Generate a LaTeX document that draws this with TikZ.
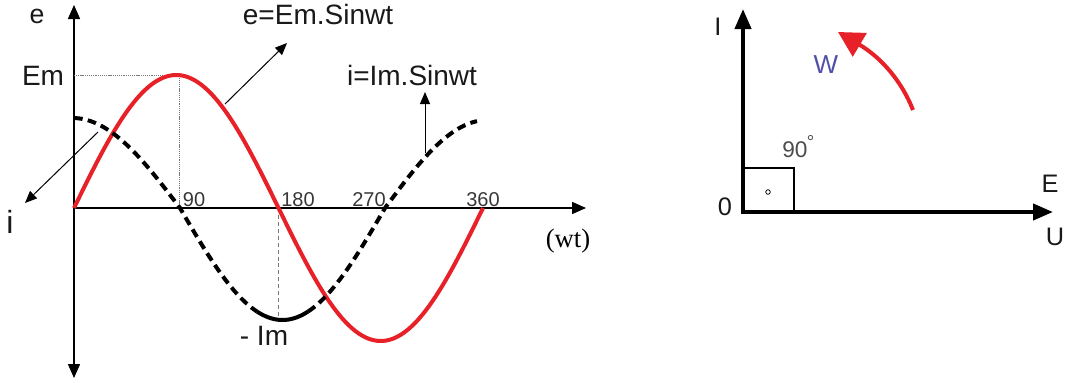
\documentclass[tikz,border=0pt]{standalone}
\usepackage{fontspec}
\setmainfont{Liberation Sans}
\newfontfamily\serifwt{Liberation Serif}
\usetikzlibrary{arrows.meta}
\definecolor{sinred}{RGB}{232,32,40}
\definecolor{wblue}{RGB}{80,80,170}
\definecolor{numgray}{RGB}{55,55,55}
\definecolor{guidegray}{RGB}{120,120,120}
\begin{document}
\begin{tikzpicture}[x=0.75pt,y=-0.75pt,
  axisthin/.style={line width=1.1pt,-{Triangle[length=10.5pt,width=9pt]}},
  axisthick/.style={line width=3pt,line join=miter},
  pointer/.style={line width=0.75pt,-{Triangle[length=9pt,width=7.5pt]}},
  guide/.style={guidegray,line width=0.6pt,dash pattern=on 0.8pt off 0.6pt},
  guidedash/.style={guidegray,line width=0.6pt,dash pattern=on 3pt off 2.2pt},
  esine/.style={sinred,line width=3pt},
  isine/.style={black,line width=3pt,dash pattern=on 6.5pt off 4pt},
  lbl/.style={inner sep=0pt,anchor=base,text=black!90,font=\fontsize{21}{25}\selectfont},
  numlbl/.style={inner sep=0pt,anchor=base,text=numgray,font=\fontsize{15}{18}\selectfont},
  rlbl/.style={inner sep=0pt,anchor=base,text=black!90,font=\fontsize{19}{22}\selectfont}
]
\useasboundingbox (0,0) rectangle (1066,382);

% ---------- left: waveforms ----------
\coordinate (O) at (74,208);
\coordinate (ytop) at (74,5);
\coordinate (ybot) at (74,378);
\coordinate (xend) at (586,208);
\draw[axisthin] (O) -- (ytop);
\draw[axisthin] (O) -- (ybot);
\draw[axisthin] (O) -- (xend);

% guide lines
\coordinate (emaxis) at (74,75);
\coordinate (peak) at (179,75);
\coordinate (peakfoot) at (179,208);
\coordinate (halfaxis) at (278,208);
\coordinate (imfoot) at (278,318);
\draw[guide] (emaxis) -- (peak) -- (peakfoot);
\draw[guidedash] (halfaxis) -- (imfoot);

% e = Em sin wt
\draw[esine] plot[domain=74:483,samples=140] (\x,{208-133*sin((\x-74)/102.25*90)});

% i = Im sin wt (dashed, solid at the minimum)
\draw[isine] plot[domain=74:180,samples=40] (\x,{208+90*sin((\x-180)/215*180)})
  -- plot[domain=180:257,samples=30] (\x,{208+112*sin((\x-180)/205*180)});
\draw[isine] plot[domain=308:385,samples=30] (\x,{208+112*sin((\x-180)/205*180)})
  -- plot[domain=385:477,samples=40] (\x,{208+88*sin((\x-180)/205*180)});
\draw[black,line width=3pt] plot[domain=257:308,samples=30] (\x,{208+112*sin((\x-180)/205*180)});

% labels
\node[lbl,font=\fontsize{20}{24}\selectfont] (elab) at (37,23) {e};
\node[lbl] (emlab) at (43,85) {Em};
\node[lbl,font=\fontsize{24}{28}\selectfont] (ilab) at (10,233) {i};
\node[lbl] (eeq) at (318,24) {e=Em.Sinwt};
\node[lbl] (ieq) at (412,85) {i=Im.Sinwt};
\node[lbl] (imlab) at (264,345) {- Im};
\node[numlbl] (n90) at (194,206) {90};
\node[numlbl] (n180) at (298,206) {180};
\node[numlbl] (n270) at (369,206) {270};
\node[numlbl] (n360) at (483,206) {360};
\node[inner sep=0pt,anchor=base,font=\serifwt\fontsize{20}{24}\selectfont] (wt) at (568,247) {(wt)};

% pointer arrows
\coordinate (ipt) at (98,132);
\coordinate (itip) at (25,203);
\coordinate (ept) at (225,104);
\coordinate (etip) at (287,43);
\coordinate (ipt2) at (425,153);
\coordinate (itip2) at (425,92);
\draw[pointer] (ipt) -- (itip);
\draw[pointer] (ept) -- (etip);
\draw[pointer] (ipt2) -- (itip2);

% ---------- right: phasor diagram ----------
\coordinate (O2) at (743,212);
\coordinate (Itip) at (743,9);
\coordinate (Etip) at (1053,212);
\draw[axisthick,{Triangle[length=15pt,width=12pt]}-{Triangle[length=15pt,width=12pt]}] (Itip) -- (O2) -- (Etip);
\draw[line width=0.8pt] (743,168) rectangle (794,212);
\draw[line width=0.6pt] (768,192) circle (2.3);

\node[inner sep=0pt,anchor=base west,text=black!70,font=\fontsize{17}{20}\selectfont] (deg) at (782,157)
  {90\kern-0.5pt\raisebox{0.36em}{\fontsize{14}{14}\selectfont °}};
\node[rlbl] (Ilab) at (718,35) {I};
\node[rlbl] (zlab) at (725,215) {0};
\node[rlbl] (Elab) at (1050,192) {E};
\node[rlbl] (Ulab) at (1055,245) {U};
\node[rlbl,text=wblue,font=\fontsize{19.5}{22}\selectfont] (Wlab) at (826,73) {W};

\coordinate (wstart) at (913,110);
\coordinate (wend) at (838,32);
\draw[sinred,line width=3pt,-{Triangle[length=19pt,width=20pt]}] (wstart) .. controls (902,82) and (882,58) .. (wend);
\end{tikzpicture}
\end{document}
